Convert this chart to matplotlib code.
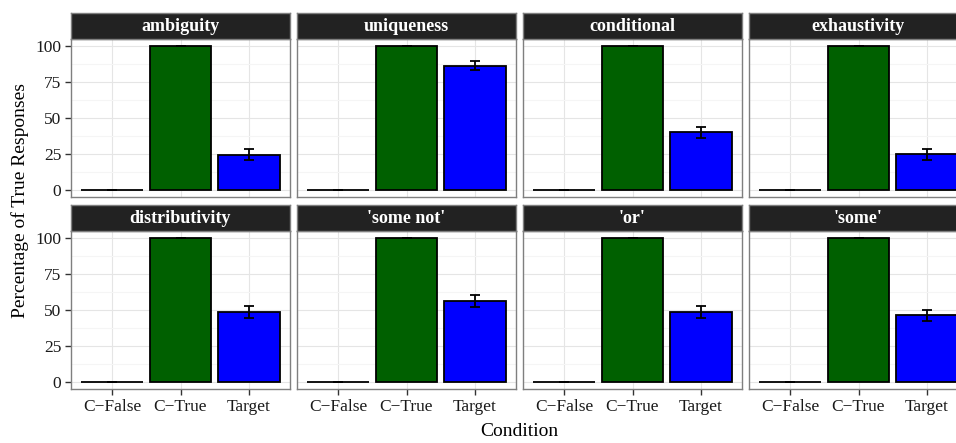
import matplotlib
matplotlib.use("Agg")
import matplotlib.pyplot as plt
import numpy as np

plt.rcParams['font.family'] = ['Liberation Serif', 'DejaVu Serif']

panels = ["ambiguity", "uniqueness", "conditional", "exhaustivity",
          "distributivity", "'some not'", "'or'", "'some'"]
conditions = ["C\u2212False", "C\u2212True", "Target"]
cfalse = [0, 0, 0, 0, 0, 0, 0, 0]
ctrue = [100, 100, 100, 100, 100, 100, 100, 100]
target = [24.3, 86.2, 39.8, 24.7, 48.7, 56.3, 48.7, 46.3]
target_lo = [20.6, 83.3, 35.8, 21.0, 44.6, 52.4, 44.6, 42.4]
target_hi = [28.0, 89.1, 43.8, 28.3, 52.7, 60.2, 52.7, 50.3]
bar_colors = ["#FF0000", "#006000", "#0000FF"]

W, H = 956, 443
fig = plt.figure(figsize=(W / 100, H / 100), dpi=100)

def rect(left, top, w, h):
    return [left / W, 1 - (top + h) / H, w / W, h / H]

lefts = [71, 297, 523, 749]
pw = 219
rows = [(13, 38.5, 197), (205, 231, 389)]
grey50 = "#7F7F7F"

for i, name in enumerate(panels):
    r, c = divmod(i, 4)
    stop, ptop, pbot = rows[r]
    ax = fig.add_axes(rect(lefts[c], ptop, pw, pbot - ptop))
    sax = fig.add_axes(rect(lefts[c], stop, pw, ptop - stop))
    # strip
    sax.set_facecolor("#222222")
    sax.set_xticks([]); sax.set_yticks([])
    for s in sax.spines.values():
        s.set_color(grey50); s.set_linewidth(1.0)
    sax.text(0.5, 0.47, name, transform=sax.transAxes, ha="center", va="center",
             color="white", fontsize=13, fontweight="bold")
    # panel
    x = np.arange(1, 4)
    vals = [cfalse[i], ctrue[i], target[i]]
    ax.bar(x, vals, width=0.9, color=bar_colors, edgecolor="black", linewidth=1.3, zorder=3)
    lo = [cfalse[i], ctrue[i], target_lo[i]]
    hi = [cfalse[i], ctrue[i], target_hi[i]]
    yerr = np.array([[v - l for v, l in zip(vals, lo)], [h - v for v, h in zip(vals, hi)]])
    ax.errorbar(x, vals, yerr=yerr, fmt="none", ecolor="black", elinewidth=1.3,
                capsize=3.7, capthick=1.3, zorder=4)
    ax.set_xlim(0.4, 3.6)
    ax.set_ylim(-5, 105)
    ax.set_yticks([0, 25, 50, 75, 100])
    ax.set_yticks([12.5, 37.5, 62.5, 87.5], minor=True)
    ax.set_xticks(x)
    ax.grid(True, which="major", color="#E5E5E5", linewidth=0.8, zorder=0)
    ax.grid(True, which="minor", axis="y", color="#F5F5F5", linewidth=0.8, zorder=0)
    ax.set_axisbelow(True)
    for s in ax.spines.values():
        s.set_color(grey50); s.set_linewidth(1.0)
    ax.tick_params(which="minor", length=0)
    ax.tick_params(which="major", length=4, width=1.0, color="#333333",
                   labelsize=12.5, labelcolor="#1a1a1a", pad=3)
    if c == 0:
        ax.set_yticklabels(["0", "25", "50", "75", "100"])
    else:
        ax.tick_params(axis="y", length=0, labelleft=False)
    if r == 1:
        ax.set_xticklabels(conditions)
    else:
        ax.tick_params(axis="x", length=0, labelbottom=False)

fig.text(519 / W, 1 - 432 / H, "Condition", ha="center", va="center", fontsize=14)
fig.text(20 / W, 1 - 201 / H, "Percentage of True Responses", ha="center", va="center",
         rotation=90, fontsize=14)

fig.savefig("out.png", dpi=100)
